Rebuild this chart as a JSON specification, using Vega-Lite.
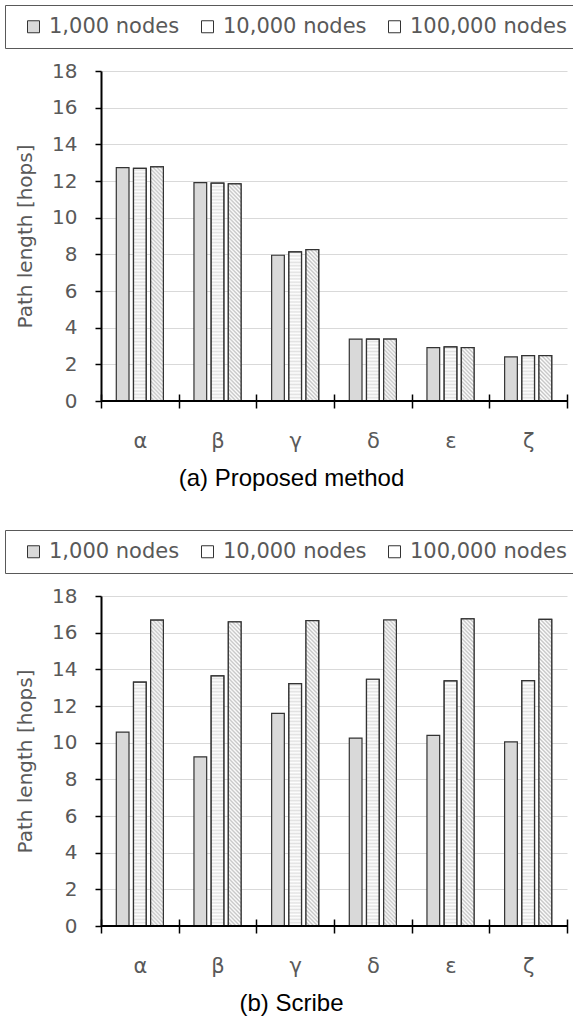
{
  "$schema": "https://vega.github.io/schema/vega-lite/v6.json",
  "padding": {"left": 4, "top": 4, "right": 0, "bottom": 0},
  "autosize": {"type": "pad"},
  "bounds": "flush",
  "spacing": 195,
  "params": [
    {"name": "legStripe", "value": [{"offset":0,"color":"#ffffff"},{"offset":0.167,"color":"#b4b4b4"},{"offset":0.333,"color":"#ffffff"},{"offset":0.5,"color":"#b4b4b4"},{"offset":0.667,"color":"#ffffff"},{"offset":0.833,"color":"#b4b4b4"},{"offset":1,"color":"#ffffff"}]},
    {"name": "legHatch", "value": [{"offset":0,"color":"#b0b0b0"},{"offset":0.25,"color":"#ffffff"},{"offset":0.5,"color":"#b0b0b0"},{"offset":0.75,"color":"#ffffff"},{"offset":1,"color":"#b0b0b0"}]},
    {"name": "hatchStops", "value": [
{"offset":0,"color":"#c4c4c4"},{"offset":0.005,"color":"#fff"},{"offset":0.01,"color":"#c4c4c4"},{"offset":0.015,"color":"#fff"},{"offset":0.02,"color":"#c4c4c4"},{"offset":0.025,"color":"#fff"},{"offset":0.03,"color":"#c4c4c4"},{"offset":0.035,"color":"#fff"},{"offset":0.04,"color":"#c4c4c4"},{"offset":0.045,"color":"#fff"},
{"offset":0.05,"color":"#c4c4c4"},{"offset":0.055,"color":"#fff"},{"offset":0.06,"color":"#c4c4c4"},{"offset":0.065,"color":"#fff"},{"offset":0.07,"color":"#c4c4c4"},{"offset":0.075,"color":"#fff"},{"offset":0.08,"color":"#c4c4c4"},{"offset":0.085,"color":"#fff"},{"offset":0.09,"color":"#c4c4c4"},{"offset":0.095,"color":"#fff"},
{"offset":0.1,"color":"#c4c4c4"},{"offset":0.105,"color":"#fff"},{"offset":0.11,"color":"#c4c4c4"},{"offset":0.115,"color":"#fff"},{"offset":0.12,"color":"#c4c4c4"},{"offset":0.125,"color":"#fff"},{"offset":0.13,"color":"#c4c4c4"},{"offset":0.135,"color":"#fff"},{"offset":0.14,"color":"#c4c4c4"},{"offset":0.145,"color":"#fff"},
{"offset":0.15,"color":"#c4c4c4"},{"offset":0.155,"color":"#fff"},{"offset":0.16,"color":"#c4c4c4"},{"offset":0.165,"color":"#fff"},{"offset":0.17,"color":"#c4c4c4"},{"offset":0.175,"color":"#fff"},{"offset":0.18,"color":"#c4c4c4"},{"offset":0.185,"color":"#fff"},{"offset":0.19,"color":"#c4c4c4"},{"offset":0.195,"color":"#fff"},
{"offset":0.2,"color":"#c4c4c4"},{"offset":0.205,"color":"#fff"},{"offset":0.21,"color":"#c4c4c4"},{"offset":0.215,"color":"#fff"},{"offset":0.22,"color":"#c4c4c4"},{"offset":0.225,"color":"#fff"},{"offset":0.23,"color":"#c4c4c4"},{"offset":0.235,"color":"#fff"},{"offset":0.24,"color":"#c4c4c4"},{"offset":0.245,"color":"#fff"},
{"offset":0.25,"color":"#c4c4c4"},{"offset":0.255,"color":"#fff"},{"offset":0.26,"color":"#c4c4c4"},{"offset":0.265,"color":"#fff"},{"offset":0.27,"color":"#c4c4c4"},{"offset":0.275,"color":"#fff"},{"offset":0.28,"color":"#c4c4c4"},{"offset":0.285,"color":"#fff"},{"offset":0.29,"color":"#c4c4c4"},{"offset":0.295,"color":"#fff"},
{"offset":0.3,"color":"#c4c4c4"},{"offset":0.305,"color":"#fff"},{"offset":0.31,"color":"#c4c4c4"},{"offset":0.315,"color":"#fff"},{"offset":0.32,"color":"#c4c4c4"},{"offset":0.325,"color":"#fff"},{"offset":0.33,"color":"#c4c4c4"},{"offset":0.335,"color":"#fff"},{"offset":0.34,"color":"#c4c4c4"},{"offset":0.345,"color":"#fff"},
{"offset":0.35,"color":"#c4c4c4"},{"offset":0.355,"color":"#fff"},{"offset":0.36,"color":"#c4c4c4"},{"offset":0.365,"color":"#fff"},{"offset":0.37,"color":"#c4c4c4"},{"offset":0.375,"color":"#fff"},{"offset":0.38,"color":"#c4c4c4"},{"offset":0.385,"color":"#fff"},{"offset":0.39,"color":"#c4c4c4"},{"offset":0.395,"color":"#fff"},
{"offset":0.4,"color":"#c4c4c4"},{"offset":0.405,"color":"#fff"},{"offset":0.41,"color":"#c4c4c4"},{"offset":0.415,"color":"#fff"},{"offset":0.42,"color":"#c4c4c4"},{"offset":0.425,"color":"#fff"},{"offset":0.43,"color":"#c4c4c4"},{"offset":0.435,"color":"#fff"},{"offset":0.44,"color":"#c4c4c4"},{"offset":0.445,"color":"#fff"},
{"offset":0.45,"color":"#c4c4c4"},{"offset":0.455,"color":"#fff"},{"offset":0.46,"color":"#c4c4c4"},{"offset":0.465,"color":"#fff"},{"offset":0.47,"color":"#c4c4c4"},{"offset":0.475,"color":"#fff"},{"offset":0.48,"color":"#c4c4c4"},{"offset":0.485,"color":"#fff"},{"offset":0.49,"color":"#c4c4c4"},{"offset":0.495,"color":"#fff"},
{"offset":0.5,"color":"#c4c4c4"},{"offset":0.505,"color":"#fff"},{"offset":0.51,"color":"#c4c4c4"},{"offset":0.515,"color":"#fff"},{"offset":0.52,"color":"#c4c4c4"},{"offset":0.525,"color":"#fff"},{"offset":0.53,"color":"#c4c4c4"},{"offset":0.535,"color":"#fff"},{"offset":0.54,"color":"#c4c4c4"},{"offset":0.545,"color":"#fff"},
{"offset":0.55,"color":"#c4c4c4"},{"offset":0.555,"color":"#fff"},{"offset":0.56,"color":"#c4c4c4"},{"offset":0.565,"color":"#fff"},{"offset":0.57,"color":"#c4c4c4"},{"offset":0.575,"color":"#fff"},{"offset":0.58,"color":"#c4c4c4"},{"offset":0.585,"color":"#fff"},{"offset":0.59,"color":"#c4c4c4"},{"offset":0.595,"color":"#fff"},
{"offset":0.6,"color":"#c4c4c4"},{"offset":0.605,"color":"#fff"},{"offset":0.61,"color":"#c4c4c4"},{"offset":0.615,"color":"#fff"},{"offset":0.62,"color":"#c4c4c4"},{"offset":0.625,"color":"#fff"},{"offset":0.63,"color":"#c4c4c4"},{"offset":0.635,"color":"#fff"},{"offset":0.64,"color":"#c4c4c4"},{"offset":0.645,"color":"#fff"},
{"offset":0.65,"color":"#c4c4c4"},{"offset":0.655,"color":"#fff"},{"offset":0.66,"color":"#c4c4c4"},{"offset":0.665,"color":"#fff"},{"offset":0.67,"color":"#c4c4c4"},{"offset":0.675,"color":"#fff"},{"offset":0.68,"color":"#c4c4c4"},{"offset":0.685,"color":"#fff"},{"offset":0.69,"color":"#c4c4c4"},{"offset":0.695,"color":"#fff"},
{"offset":0.7,"color":"#c4c4c4"},{"offset":0.705,"color":"#fff"},{"offset":0.71,"color":"#c4c4c4"},{"offset":0.715,"color":"#fff"},{"offset":0.72,"color":"#c4c4c4"},{"offset":0.725,"color":"#fff"},{"offset":0.73,"color":"#c4c4c4"},{"offset":0.735,"color":"#fff"},{"offset":0.74,"color":"#c4c4c4"},{"offset":0.745,"color":"#fff"},
{"offset":0.75,"color":"#c4c4c4"},{"offset":0.755,"color":"#fff"},{"offset":0.76,"color":"#c4c4c4"},{"offset":0.765,"color":"#fff"},{"offset":0.77,"color":"#c4c4c4"},{"offset":0.775,"color":"#fff"},{"offset":0.78,"color":"#c4c4c4"},{"offset":0.785,"color":"#fff"},{"offset":0.79,"color":"#c4c4c4"},{"offset":0.795,"color":"#fff"},
{"offset":0.8,"color":"#c4c4c4"},{"offset":0.805,"color":"#fff"},{"offset":0.81,"color":"#c4c4c4"},{"offset":0.815,"color":"#fff"},{"offset":0.82,"color":"#c4c4c4"},{"offset":0.825,"color":"#fff"},{"offset":0.83,"color":"#c4c4c4"},{"offset":0.835,"color":"#fff"},{"offset":0.84,"color":"#c4c4c4"},{"offset":0.845,"color":"#fff"},
{"offset":0.85,"color":"#c4c4c4"},{"offset":0.855,"color":"#fff"},{"offset":0.86,"color":"#c4c4c4"},{"offset":0.865,"color":"#fff"},{"offset":0.87,"color":"#c4c4c4"},{"offset":0.875,"color":"#fff"},{"offset":0.88,"color":"#c4c4c4"},{"offset":0.885,"color":"#fff"},{"offset":0.89,"color":"#c4c4c4"},{"offset":0.895,"color":"#fff"},
{"offset":0.9,"color":"#c4c4c4"},{"offset":0.905,"color":"#fff"},{"offset":0.91,"color":"#c4c4c4"},{"offset":0.915,"color":"#fff"},{"offset":0.92,"color":"#c4c4c4"},{"offset":0.925,"color":"#fff"},{"offset":0.93,"color":"#c4c4c4"},{"offset":0.935,"color":"#fff"},{"offset":0.94,"color":"#c4c4c4"},{"offset":0.945,"color":"#fff"},
{"offset":0.95,"color":"#c4c4c4"},{"offset":0.955,"color":"#fff"},{"offset":0.96,"color":"#c4c4c4"},{"offset":0.965,"color":"#fff"},{"offset":0.97,"color":"#c4c4c4"},{"offset":0.975,"color":"#fff"},{"offset":0.98,"color":"#c4c4c4"},{"offset":0.985,"color":"#fff"},{"offset":0.99,"color":"#c4c4c4"},{"offset":0.995,"color":"#fff"},
{"offset":1,"color":"#c4c4c4"}
    ]}
  ],
  "datasets": {
    "proposed": [
      {"cat": "α", "series": "1,000 nodes", "value": 12.73},
      {"cat": "α", "series": "10,000 nodes", "value": 12.69},
      {"cat": "α", "series": "100,000 nodes", "value": 12.77},
      {"cat": "β", "series": "1,000 nodes", "value": 11.91},
      {"cat": "β", "series": "10,000 nodes", "value": 11.88},
      {"cat": "β", "series": "100,000 nodes", "value": 11.84},
      {"cat": "γ", "series": "1,000 nodes", "value": 7.95},
      {"cat": "γ", "series": "10,000 nodes", "value": 8.13},
      {"cat": "γ", "series": "100,000 nodes", "value": 8.26},
      {"cat": "δ", "series": "1,000 nodes", "value": 3.38},
      {"cat": "δ", "series": "10,000 nodes", "value": 3.37},
      {"cat": "δ", "series": "100,000 nodes", "value": 3.38},
      {"cat": "ε", "series": "1,000 nodes", "value": 2.91},
      {"cat": "ε", "series": "10,000 nodes", "value": 2.95},
      {"cat": "ε", "series": "100,000 nodes", "value": 2.91},
      {"cat": "ζ", "series": "1,000 nodes", "value": 2.41},
      {"cat": "ζ", "series": "10,000 nodes", "value": 2.48},
      {"cat": "ζ", "series": "100,000 nodes", "value": 2.47}
    ],
    "scribe": [
      {"cat": "α", "series": "1,000 nodes", "value": 10.58},
      {"cat": "α", "series": "10,000 nodes", "value": 13.30},
      {"cat": "α", "series": "100,000 nodes", "value": 16.68},
      {"cat": "β", "series": "1,000 nodes", "value": 9.23},
      {"cat": "β", "series": "10,000 nodes", "value": 13.64},
      {"cat": "β", "series": "100,000 nodes", "value": 16.59},
      {"cat": "γ", "series": "1,000 nodes", "value": 11.60},
      {"cat": "γ", "series": "10,000 nodes", "value": 13.22},
      {"cat": "γ", "series": "100,000 nodes", "value": 16.66},
      {"cat": "δ", "series": "1,000 nodes", "value": 10.25},
      {"cat": "δ", "series": "10,000 nodes", "value": 13.46},
      {"cat": "δ", "series": "100,000 nodes", "value": 16.69},
      {"cat": "ε", "series": "1,000 nodes", "value": 10.40},
      {"cat": "ε", "series": "10,000 nodes", "value": 13.37},
      {"cat": "ε", "series": "100,000 nodes", "value": 16.75},
      {"cat": "ζ", "series": "1,000 nodes", "value": 10.04},
      {"cat": "ζ", "series": "10,000 nodes", "value": 13.38},
      {"cat": "ζ", "series": "100,000 nodes", "value": 16.73}
    ]
  },
  "config": {
    "view": {"stroke": null},
    "axis": {"labelFont": "DejaVu Sans", "titleFont": "DejaVu Sans", "labelColor": "#595959", "titleColor": "#595959", "titleFontWeight": "normal"},
    "axisX": {"domain": false, "grid": false, "tickBand": "extent", "tickSize": 14, "tickWidth": 1.5, "tickColor": "#000000", "offset": -7, "labelPadding": 22, "labelFontSize": 21, "labelAngle": 0},
    "axisY": {"tickCount": 9, "domainColor": "#000000", "domainWidth": 2, "tickColor": "#000000", "tickWidth": 1.5, "tickSize": 6, "labelPadding": 18, "labelFontSize": 20, "grid": true, "gridColor": "#d9d9d9", "gridWidth": 1, "titlePadding": 16, "titleFontSize": 20},
    "legend": {"orient": "none", "legendX": -96, "legendY": -66, "direction": "horizontal", "title": null, "padding": 11, "strokeColor": "#595959", "symbolType": "square", "symbolSize": 144, "symbolStrokeColor": "#333333", "symbolStrokeWidth": 1, "symbolOffset": 7, "labelFont": "DejaVu Sans", "labelFontSize": 21, "labelColor": "#595959", "labelOffset": 5, "columnPadding": 10, "labelLimit": 0},
    "title": {"font": "Liberation Sans", "fontSize": 24, "fontWeight": "normal", "color": "#000000"}
  },
  "resolve": {"scale": {"fill": "independent"}, "legend": {"fill": "independent"}},
  "vconcat": [
    {
      "width": 466,
      "height": 330,
      "title": {"text": "(a) Proposed method", "orient": "bottom", "frame": "bounds", "anchor": "middle", "offset": 16},
      "data": {"name": "proposed"},
      "layer": [
        {
          "mark": {"type": "bar", "stroke": "#333333", "strokeWidth": 1.2},
          "encoding": {
            "x": {"field": "cat", "type": "nominal", "title": null, "scale": {"domain": ["α", "β", "γ", "δ", "ε", "ζ"], "paddingInner": 0, "paddingOuter": 0}},
            "xOffset": {"field": "series", "type": "nominal", "scale": {"domain": ["1,000 nodes", "10,000 nodes", "100,000 nodes"], "paddingInner": 0.26, "paddingOuter": 0.89}},
            "y": {"field": "value", "type": "quantitative", "title": "Path length [hops]", "scale": {"domain": [0, 18], "nice": false}},
            "fill": {"field": "series", "type": "nominal", "scale": {"domain": ["1,000 nodes", "10,000 nodes", "100,000 nodes"], "range": ["#d9d9d9", "#ffffff", "#ffffff"]},
                     "legend": {"encode": {"symbols": {"update": {"stroke": {"value": "#333333"}, "strokeWidth": {"value": 1}, "fill": {"signal": "datum.value === '10,000 nodes' ? {gradient: 'linear', x1: 0, y1: 0, x2: 0, y2: 1, stops: legStripe} : datum.value === '100,000 nodes' ? {gradient: 'linear', x1: 0, y1: 1, x2: 1, y2: 0, stops: legHatch} : '#d9d9d9'"}}}}}}
          }
        },
        {
          "transform": [{"filter": "datum.series === '10,000 nodes'"}],
          "mark": {"type": "bar", "stroke": "#333333", "strokeWidth": 1.2, "fillOpacity": 0.5,
                   "fill": {"expr": "{gradient: 'linear', x1: 0, y1: 1, x2: 0, y2: 1 - 18 / datum.value, stops: hatchStops}"}},
          "encoding": {
            "x": {"field": "cat", "type": "nominal", "title": null, "scale": {"domain": ["α", "β", "γ", "δ", "ε", "ζ"]}},
            "xOffset": {"field": "series", "type": "nominal", "scale": {"domain": ["1,000 nodes", "10,000 nodes", "100,000 nodes"]}},
            "y": {"field": "value", "type": "quantitative", "title": "Path length [hops]", "scale": {"domain": [0, 18]}}
          }
        },
        {
          "transform": [{"filter": "datum.series === '100,000 nodes'"}],
          "mark": {"type": "bar", "stroke": "#333333", "strokeWidth": 1.2,
                   "fill": {"expr": "{gradient: 'linear', x1: 0, y1: 1, x2: 13 * 400 / (169 + pow(datum.value * 18.333, 2)), y2: 1 - datum.value * 18.333 * 400 / (169 + pow(datum.value * 18.333, 2)), stops: hatchStops}"}},
          "encoding": {
            "x": {"field": "cat", "type": "nominal", "title": null, "scale": {"domain": ["α", "β", "γ", "δ", "ε", "ζ"]}},
            "xOffset": {"field": "series", "type": "nominal", "scale": {"domain": ["1,000 nodes", "10,000 nodes", "100,000 nodes"]}},
            "y": {"field": "value", "type": "quantitative", "title": "Path length [hops]", "scale": {"domain": [0, 18]}}
          }
        },
        {
          "data": {"values": [{"base": 0}]},
          "mark": {"type": "rule", "color": "#000000", "strokeWidth": 2},
          "encoding": {"y": {"field": "base", "type": "quantitative", "title": "Path length [hops]", "scale": {"domain": [0, 18]}}}
        }
      ]
    },
    {
      "width": 466,
      "height": 330,
      "title": {"text": "(b) Scribe", "orient": "bottom", "frame": "bounds", "anchor": "middle", "offset": 16},
      "data": {"name": "scribe"},
      "layer": [
        {
          "mark": {"type": "bar", "stroke": "#333333", "strokeWidth": 1.2},
          "encoding": {
            "x": {"field": "cat", "type": "nominal", "title": null, "scale": {"domain": ["α", "β", "γ", "δ", "ε", "ζ"], "paddingInner": 0, "paddingOuter": 0}},
            "xOffset": {"field": "series", "type": "nominal", "scale": {"domain": ["1,000 nodes", "10,000 nodes", "100,000 nodes"], "paddingInner": 0.26, "paddingOuter": 0.89}},
            "y": {"field": "value", "type": "quantitative", "title": "Path length [hops]", "scale": {"domain": [0, 18], "nice": false}},
            "fill": {"field": "series", "type": "nominal", "scale": {"domain": ["1,000 nodes", "10,000 nodes", "100,000 nodes"], "range": ["#d9d9d9", "#ffffff", "#ffffff"]},
                     "legend": {"encode": {"symbols": {"update": {"stroke": {"value": "#333333"}, "strokeWidth": {"value": 1}, "fill": {"signal": "datum.value === '10,000 nodes' ? {gradient: 'linear', x1: 0, y1: 0, x2: 0, y2: 1, stops: legStripe} : datum.value === '100,000 nodes' ? {gradient: 'linear', x1: 0, y1: 1, x2: 1, y2: 0, stops: legHatch} : '#d9d9d9'"}}}}}}
          }
        },
        {
          "transform": [{"filter": "datum.series === '10,000 nodes'"}],
          "mark": {"type": "bar", "stroke": "#333333", "strokeWidth": 1.2, "fillOpacity": 0.5,
                   "fill": {"expr": "{gradient: 'linear', x1: 0, y1: 1, x2: 0, y2: 1 - 18 / datum.value, stops: hatchStops}"}},
          "encoding": {
            "x": {"field": "cat", "type": "nominal", "title": null, "scale": {"domain": ["α", "β", "γ", "δ", "ε", "ζ"]}},
            "xOffset": {"field": "series", "type": "nominal", "scale": {"domain": ["1,000 nodes", "10,000 nodes", "100,000 nodes"]}},
            "y": {"field": "value", "type": "quantitative", "title": "Path length [hops]", "scale": {"domain": [0, 18]}}
          }
        },
        {
          "transform": [{"filter": "datum.series === '100,000 nodes'"}],
          "mark": {"type": "bar", "stroke": "#333333", "strokeWidth": 1.2,
                   "fill": {"expr": "{gradient: 'linear', x1: 0, y1: 1, x2: 13 * 400 / (169 + pow(datum.value * 18.333, 2)), y2: 1 - datum.value * 18.333 * 400 / (169 + pow(datum.value * 18.333, 2)), stops: hatchStops}"}},
          "encoding": {
            "x": {"field": "cat", "type": "nominal", "title": null, "scale": {"domain": ["α", "β", "γ", "δ", "ε", "ζ"]}},
            "xOffset": {"field": "series", "type": "nominal", "scale": {"domain": ["1,000 nodes", "10,000 nodes", "100,000 nodes"]}},
            "y": {"field": "value", "type": "quantitative", "title": "Path length [hops]", "scale": {"domain": [0, 18]}}
          }
        },
        {
          "data": {"values": [{"base": 0}]},
          "mark": {"type": "rule", "color": "#000000", "strokeWidth": 2},
          "encoding": {"y": {"field": "base", "type": "quantitative", "title": "Path length [hops]", "scale": {"domain": [0, 18]}}}
        }
      ]
    }
  ]
}
